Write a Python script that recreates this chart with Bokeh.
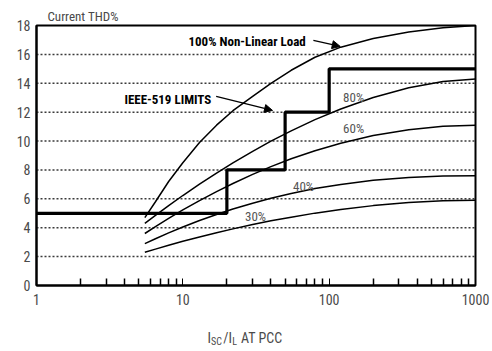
from bokeh.plotting import figure
from bokeh.layouts import column
from bokeh.models import (Range1d, FixedTicker, NumeralTickFormatter, Label, Arrow,
                          NormalHead)
from bokeh.core.properties import value
from bokeh.embed import file_html
from bokeh.resources import INLINE

# ---- data ----
ratio = [5.5, 6.5, 8, 10, 13, 17, 22, 30, 40, 55, 80, 120, 200, 350, 600, 1000]
thd_100 = [4.7, 5.8, 7.2, 8.5, 9.9, 11.1, 12.1, 13.1, 14.0, 14.9, 15.8, 16.5, 17.1, 17.55, 17.85, 18.0]
thd_80 = [4.3, 4.86, 5.53, 6.23, 7.01, 7.78, 8.49, 9.29, 9.99, 10.70, 11.48, 12.22, 13.02, 13.69, 14.13, 14.3]
thd_60 = [3.6, 4.08, 4.64, 5.23, 5.88, 6.50, 7.06, 7.69, 8.23, 8.77, 9.33, 9.85, 10.38, 10.79, 11.03, 11.1]
thd_40 = [2.9, 3.24, 3.64, 4.05, 4.50, 4.92, 5.30, 5.70, 6.04, 6.37, 6.71, 7.0, 7.28, 7.48, 7.58, 7.6]
thd_30 = [2.3, 2.52, 2.78, 3.06, 3.36, 3.65, 3.92, 4.22, 4.48, 4.73, 5.01, 5.26, 5.53, 5.74, 5.86, 5.9]

ieee_ratio = [1, 20, 50, 100, 1000]
ieee_limit = [5, 8, 12, 15, 15]

y_ticks = [0, 2, 4, 6, 8, 10, 12, 14, 16, 18]
grid_levels = [2, 4, 6, 8, 10, 12, 14, 16]
x_major = [1, 10, 100, 1000]
x_minor = [2, 3, 4, 5, 6, 7, 8, 9, 20, 30, 40, 50, 60, 70, 80, 90,
           200, 300, 400, 500, 600, 700, 800, 900]

title_parts = ["I", "SC", "/I", "L", "AT PCC"]
title_part_x = [14.75, 15.6, 18.9, 21.8, 25.0]

FONT = "'Liberation Sans Narrow', 'Arial Narrow', 'Roboto Condensed', 'Liberation Sans', sans-serif"
GRAY = "#4a4a4a"

p = figure(width=492, height=313, x_axis_type="log", output_backend="svg",
           toolbar_location=None, x_range=Range1d(1, 1000), y_range=Range1d(0, 18),
           min_border_left=36, min_border_right=17, min_border_top=25, min_border_bottom=28,
           title="Current THD%")
p.title.text_font = FONT
p.title.text_font_size = "13px"
p.title.text_font_style = "normal"
p.title.text_color = GRAY
p.title.offset = 11
p.title.standoff = 3
p.background_fill_color = "white"
p.border_fill_color = "white"
p.outline_line_color = "black"
p.outline_line_width = 2

# grid: dotted horizontal lines
p.xgrid.grid_line_color = None
p.ygrid.grid_line_color = None
for g in grid_levels:
    p.line(x=[1, 1000], y=[g, g], line_color="#3a3a3a", line_dash="2 2", line_width=1.5)

# axes
p.yaxis.ticker = FixedTicker(ticks=y_ticks)
p.xaxis.ticker = FixedTicker(ticks=x_major, minor_ticks=x_minor)
p.xaxis.formatter = NumeralTickFormatter(format="0")
for ax in (p.xaxis[0], p.yaxis[0]):
    ax.axis_line_color = "black"
    ax.axis_line_width = 2
    ax.major_label_text_font = FONT
    ax.major_label_text_font_size = "14px"
    ax.major_label_text_color = GRAY
    ax.major_tick_out = 0
    ax.minor_tick_out = 0
p.yaxis.major_tick_in = 0
p.yaxis.minor_tick_in = 0
p.yaxis.major_label_standoff = 6
p.xaxis.major_tick_in = 7
p.xaxis.minor_tick_in = 7
p.xaxis.major_tick_line_color = "black"
p.xaxis.minor_tick_line_color = "black"
p.xaxis.minor_tick_line_width = 1.5
p.xaxis.major_label_standoff = 8

# curves
for ys in (thd_100, thd_80, thd_60, thd_40, thd_30):
    p.line(ratio, ys, line_color="black", line_width=1.5)

# IEEE-519 limit steps
p.step(ieee_ratio, ieee_limit, mode="after", line_color="black", line_width=3.2)

def lab(x, y, text, size="11px", bold=False, color="black", align="left"):
    p.add_layout(Label(x=x, y=y, text=text, text_font=FONT, text_font_size=size,
                       text_font_style="bold" if bold else "normal", text_color=color,
                       text_align=align, text_baseline="middle"))

lab(27.5, 16.92, "100% Non-Linear Load", size="13px", bold=True, align="center")
lab(7.9, 12.88, "IEEE-519 LIMITS", size="13px", bold=True, align="center")
lab(147, 13.0, "80%", size="13px", color="#555555", align="center")
lab(147, 10.87, "60%", size="13px", color="#555555", align="center")
lab(66.8, 6.86, "40%", size="13px", color="#555555", align="center")
lab(31.4, 4.78, "30%", size="13px", color="#555555", align="center")

# arrows
p.add_layout(Arrow(x_start=78, y_start=16.97, x_end=119, y_end=16.55, line_width=1.3,
                   end=NormalHead(size=8, fill_color="black", line_color="black")))
p.add_layout(Arrow(x_start=16.9, y_start=13.09, x_end=41, y_end=12.12, line_width=1.3,
                   end=NormalHead(size=8, fill_color="black", line_color="black")))

# x-axis title strip (with subscripts)
t = figure(width=492, height=38, x_axis_type="log", output_backend="svg",
           toolbar_location=None, x_range=Range1d(1, 1000), y_range=Range1d(0, 38),
           min_border_left=36, min_border_right=17, min_border_top=0, min_border_bottom=0)
t.axis.visible = False
t.grid.visible = False
t.outline_line_color = None
t.background_fill_color = "white"
t.border_fill_color = "white"
sizes = ["14px", "10px", "14px", "10px", "14px"]
ys = [14, 10, 14, 10, 14]
for txt, xx, yy, sz in zip(title_parts, title_part_x, ys, sizes):
    t.text(x=[xx], y=[yy], text=[txt], text_font=value(FONT), text_font_size=sz,
           text_color=GRAY, text_baseline="middle", text_align="left")

layout = column(p, t, spacing=0)
open("out.html", "w").write(file_html(layout, INLINE))
